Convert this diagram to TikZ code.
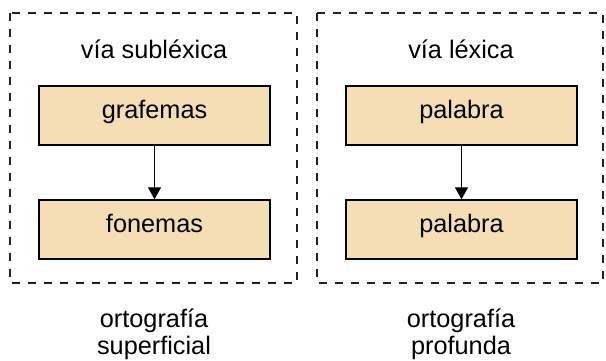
\documentclass[tikz,border=0pt]{standalone}
\usepackage{fontspec}
\setmainfont{Liberation Sans}
\usetikzlibrary{arrows.meta}
\definecolor{boxfill}{HTML}{F5DEB3}
\definecolor{framegray}{HTML}{222222}
\tikzset{
  group/.style={draw=framegray, line width=1.5pt, dash pattern=on 8pt off 8pt},
  unitbox/.style={draw=black, fill=boxfill, line width=1.4pt, minimum width=231pt,
    minimum height=59pt, inner sep=0pt, text height=0.73em, text depth=0.21em},
  label/.style={anchor=base, inner sep=0pt},
  flow/.style={line width=1.3pt, -{Triangle[width=13pt 0,length=12pt 0]}}
}
\begin{document}
\begin{tikzpicture}[x=1pt, y=-1pt, font=\fontsize{25.3}{28}\selectfont]
  \useasboundingbox (0,0) rectangle (606,361);

  % dashed group frames
  \draw[group] (10,13) rectangle (297,283);
  \draw[group] (317,13) rectangle (603,283);

  % sublexical route
  \node[label] (tsub) at (154,58.5) {vía subléxica};
  \node[unitbox] (graf) at (154.5,115.5) {grafemas};
  \node[unitbox] (fon) at (154.5,229.5) {fonemas};
  \draw[flow] (graf) -- (fon);

  % lexical route
  \node[label] (tlex) at (461,58.5) {vía léxica};
  \node[unitbox] (pal1) at (461.5,115.5) {palabra};
  \node[unitbox] (pal2) at (461.5,229.5) {palabra};
  \draw[flow] (pal1) -- (pal2);

  % orthography depth captions
  \node[label] (o1) at (154,327) {ortografía};
  \node[label] (o2) at (154,354) {superficial};
  \node[label] (o3) at (461,327) {ortografía};
  \node[label] (o4) at (461,354) {profunda};
\end{tikzpicture}
\end{document}
